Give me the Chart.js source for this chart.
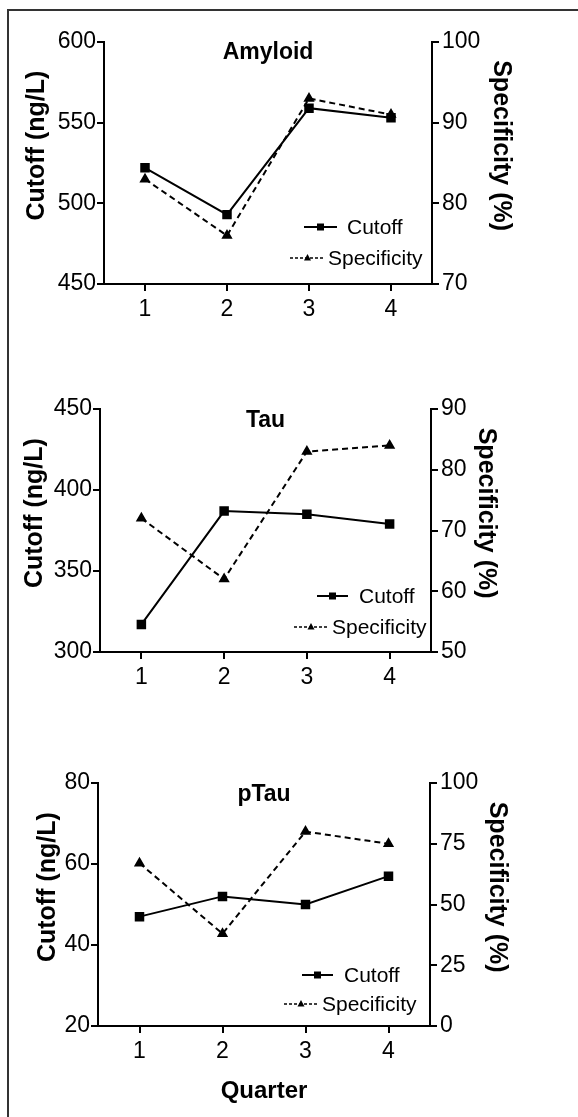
<!DOCTYPE html>
<html>
<head>
<meta charset="utf-8">
<script src="https://cdn.jsdelivr.net/npm/chart.js"></script>
<style>
  body { margin: 0; background: #fff; overflow: hidden; }
  #page { position: relative; width: 578px; height: 1117px; overflow: hidden; }
  #frame { position: absolute; left: 7px; top: 9px; width: 700px; height: 1300px; border-top: 2px solid #333; border-left: 2px solid #333; }
  canvas { position: absolute; left: 0; }
</style>
</head>
<body>
<div id="page">
  <div id="frame"></div>
  <canvas id="grafica_1" width="578" height="345" style="top:0px"></canvas>
  <canvas id="grafica_2" width="578" height="385" style="top:345px"></canvas>
  <canvas id="grafica_3" width="578" height="387" style="top:730px"></canvas>
</div>
<script>
// datos
var quarters = ['1', '2', '3', '4'];
var seriesNames = ['Cutoff', 'Specificity'];

var amyloidCutoff = [522, 493, 559, 553];
var amyloidSpecificity = [83, 76, 93, 91];
var tauCutoff = [317, 387, 385, 379];
var tauSpecificity = [72, 62, 83, 84];
var ptauCutoff = [47, 52, 50, 57];
var ptauSpecificity = [67, 38, 80, 75];

// ejes: [min, max, paso]
var amyloidCutoffAxis = [450, 600, 50];
var amyloidSpecAxis = [70, 100, 10];
var tauCutoffAxis = [300, 450, 50];
var tauSpecAxis = [50, 90, 10];
var ptauCutoffAxis = [20, 80, 20];
var ptauSpecAxis = [0, 100, 25];

var FONT = "'Liberation Sans', Arial, sans-serif";
Chart.defaults.font.family = FONT;
Chart.defaults.color = '#000';

// leyenda dentro del area del grafico (estilo GraphPad)
var insideLegend = {
    id: 'insideLegend',
    afterDatasetsDraw: function (chart, args, opts) {
        var ctx = chart.ctx;
        var area = chart.chartArea;
        chart.data.datasets.forEach(function (ds, i) {
            var r = opts.rows[i];
            var y = area.bottom + r.y;
            var x0 = area.right + r.x0, x1 = area.right + r.x1;
            var dashed = !!ds.borderDash;
            ctx.save();
            ctx.strokeStyle = '#000';
            ctx.fillStyle = '#000';
            ctx.lineWidth = dashed ? 1.6 : 2;
            ctx.setLineDash(dashed ? [3, 2] : []);
            ctx.beginPath();
            ctx.moveTo(x0, y);
            ctx.lineTo(x1, y);
            ctx.stroke();
            ctx.setLineDash([]);
            var cx = (x0 + x1) / 2;
            ctx.beginPath();
            if (ds.pointStyle === 'rect') {
                ctx.rect(cx - 3.5, y - 3.5, 7, 7);
            } else {
                ctx.moveTo(cx, y - 4);
                ctx.lineTo(cx + 3.5, y + 2.5);
                ctx.lineTo(cx - 3.5, y + 2.5);
                ctx.closePath();
            }
            ctx.fill();
            ctx.font = '21px ' + FONT;
            ctx.textBaseline = 'middle';
            ctx.textAlign = 'left';
            ctx.fillText(ds.label, area.right + r.tx, y + 1);
            ctx.restore();
        });
    }
};

function makePanel(id, title, cutoff, spec, cutAxis, specAxis, lay) {
    var gx = document.getElementById(id).getContext('2d');
    return new Chart(gx, {
        type: 'line',
        data: {
            labels: quarters,
            datasets: [{
                label: seriesNames[0],
                data: cutoff,
                yAxisID: 'y',
                borderColor: '#000',
                backgroundColor: '#000',
                borderWidth: 2,
                pointStyle: 'rect',
                pointRadius: 5.3,
                pointHoverRadius: 5.3,
                tension: 0
            }, {
                label: seriesNames[1],
                data: spec,
                yAxisID: 'y1',
                borderColor: '#000',
                backgroundColor: '#000',
                borderWidth: 2,
                borderDash: [6, 4],
                pointStyle: 'triangle',
                pointRadius: 4.5,
                pointHoverRadius: 4.5,
                tension: 0
            }]
        },
        plugins: [insideLegend],
        options: {
            responsive: false,
            animation: false,
            devicePixelRatio: 1,
            layout: { padding: lay.padding },
            plugins: {
                legend: { display: false },
                tooltip: { enabled: false },
                title: {
                    display: true,
                    text: title,
                    fullSize: false,
                    color: '#000',
                    font: { size: 23, weight: 'bold' },
                    padding: { top: lay.titleTop, bottom: -(27.6 + lay.titleTop) }
                },
                insideLegend: { rows: lay.legend }
            },
            scales: {
                x: {
                    type: 'category',
                    offset: true,
                    grid: { drawOnChartArea: false, offset: false, color: '#000', lineWidth: 2, tickLength: 7 },
                    border: { color: '#000', width: 2 },
                    ticks: { color: '#000', font: { size: 23 }, padding: 5, maxRotation: 0 },
                    title: {
                        display: !!lay.xTitle,
                        text: lay.xTitle || '',
                        color: '#000',
                        font: { size: 24, weight: 'bold' },
                        padding: { top: 0, bottom: 0 }
                    },
                    afterFit: function (s) { s.height = lay.xHeight; }
                },
                y: {
                    position: 'left',
                    min: cutAxis[0],
                    max: cutAxis[1],
                    ticks: { stepSize: cutAxis[2], color: '#000', font: { size: 23 }, padding: 1 },
                    grid: { drawOnChartArea: false, color: '#000', lineWidth: 2, tickLength: 7 },
                    border: { color: '#000', width: 2 },
                    title: {
                        display: true,
                        text: '     Cutoff (ng/L)',
                        color: '#000',
                        font: { size: 25, weight: 'bold' },
                        padding: { top: 0, bottom: 0 }
                    },
                    afterFit: function (s) { s.width = lay.leftWidth; }
                },
                y1: {
                    position: 'right',
                    min: specAxis[0],
                    max: specAxis[1],
                    ticks: { stepSize: specAxis[2], color: '#000', font: { size: 23 }, padding: 3 },
                    grid: { drawOnChartArea: false, color: '#000', lineWidth: 2, tickLength: 7 },
                    border: { color: '#000', width: 2 },
                    title: {
                        display: true,
                        text: 'Specificity (%)     ',
                        color: '#000',
                        font: { size: 25, weight: 'bold' },
                        padding: { top: 0, bottom: 0 }
                    },
                    afterFit: function (s) { s.width = lay.rightWidth; }
                }
            }
        }
    });
}

var chart1 = makePanel('grafica_1', 'Amyloid', amyloidCutoff, amyloidSpecificity, amyloidCutoffAxis, amyloidSpecAxis, {
    padding: { top: 42, left: 22, right: 62, bottom: 21 },
    leftWidth: 82, rightWidth: 84, xHeight: 40, titleTop: -3.5,
    legend: [{ x0: -128, x1: -95, tx: -85, y: -57 }, { x0: -142, x1: -107, tx: -104, y: -26 }]
});

var chart2 = makePanel('grafica_2', 'Tau', tauCutoff, tauSpecificity, tauCutoffAxis, tauSpecAxis, {
    padding: { top: 64, left: 20, right: 77, bottom: 38 },
    leftWidth: 80, rightWidth: 70, xHeight: 40, titleTop: -2.5,
    legend: [{ x0: -114, x1: -83, tx: -72, y: -56 }, { x0: -137, x1: -103, tx: -99, y: -25 }]
});

var chart3 = makePanel('grafica_3', 'pTau', ptauCutoff, ptauSpecificity, ptauCutoffAxis, ptauSpecAxis, {
    padding: { top: 53, left: 33, right: 66, bottom: 11 },
    leftWidth: 65, rightWidth: 82, xHeight: 80, titleTop: -2.5, xTitle: 'Quarter',
    legend: [{ x0: -128, x1: -97, tx: -86, y: -51 }, { x0: -146, x1: -112, tx: -108, y: -22 }]
});
</script>
</body>
</html>
